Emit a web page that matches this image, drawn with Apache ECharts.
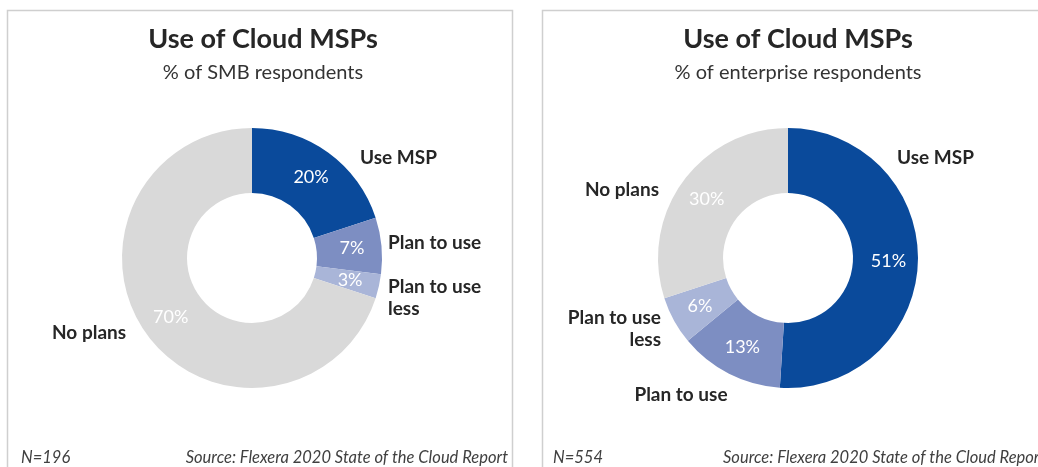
<!DOCTYPE html>
<html><head><meta charset="utf-8">
<script src="https://cdn.jsdelivr.net/npm/echarts@6/dist/echarts.min.js"></script>
<style>html,body{margin:0;padding:0;background:#fff}#c{width:1038px;height:467px}</style>
</head><body><div id="c"></div>
<script>
const categories = ['Use MSP', 'Plan to use', 'Plan to use less', 'No plans'];
const labelNames = ['Use MSP', 'Plan to use', 'Plan to use\nless', 'No plans'];
const smbValues = [20, 7, 3, 70];
const entValues = [51, 13, 6, 30];
const titles = ['Use of Cloud MSPs', 'Use of Cloud MSPs'];
const subtitles = ['% of SMB respondents', '% of enterprise respondents'];
const footN = ['N=196', 'N=554'];
const source = 'Source: Flexera 2020 State of the Cloud Report';
const colors = ['#0a4a9b', '#7d8ec2', '#a9b5d8', '#d9d9d9'];

// outer label placement (layout only)
const smbLabelPos = [
  {x: 360, y: 158, align: 'left'},
  {x: 388, y: 243, align: 'left'},
  {x: 388, y: 298, align: 'left'},
  {x: 52, y: 333, align: 'left'}
];
const entLabelPos = [
  {x: 897, y: 158, align: 'left'},
  {x: 681, y: 395, align: 'center'},
  {x: 661, y: 329, align: 'right'},
  {x: 659, y: 190, align: 'right'}
];

const FONT = 'Lato, "Open Sans", sans-serif';
const chart = echarts.init(document.getElementById('c'), null, {renderer: 'canvas'});

function mkData(vals) {
  return categories.map((c, i) => ({name: c, value: vals[i], itemStyle: {color: colors[i]}}));
}
function innerSeries(vals, cx) {
  return {
    type: 'pie', center: [cx, 258], radius: [65, 130], startAngle: 90, clockwise: true,
    silent: true, animation: false,
    itemStyle: {borderWidth: 0},
    label: {show: true, position: 'inside', formatter: '{c}%', color: '#ffffff',
      fontFamily: FONT, fontSize: 18},
    labelLine: {show: false},
    data: mkData(vals)
  };
}
function outerSeries(vals, cx, pos) {
  return {
    type: 'pie', center: [cx, 258], radius: [65, 130], startAngle: 90, clockwise: true,
    silent: true, animation: false, z: 1,
    itemStyle: {color: 'rgba(0,0,0,0)', borderWidth: 0},
    label: {show: true, position: 'outside', color: '#262626', fontFamily: FONT,
      fontSize: 19, fontWeight: 'bold', lineHeight: 22, overflow: 'none', width: 200,
      formatter: p => labelNames[p.dataIndex]},
    labelLine: {show: false},
    labelLayout: p => ({x: pos[p.dataIndex].x, y: pos[p.dataIndex].y, align: pos[p.dataIndex].align, verticalAlign: 'middle'}),
    data: categories.map((c, i) => ({name: c, value: vals[i]}))
  };
}

const titleList = [];
[258, 793].forEach((cx, i) => {
  titleList.push({text: titles[i], left: cx, top: 21, textAlign: 'center',
    textStyle: {fontFamily: FONT, fontSize: 27, fontWeight: 'bold', color: '#262626'}});
  titleList.push({text: subtitles[i], left: cx, top: 58, textAlign: 'center',
    textStyle: {fontFamily: FONT, fontSize: 20, fontWeight: 'normal', color: '#333333'}});
});

const footFont = 'italic 16.5px ' + FONT;
chart.setOption({
  backgroundColor: '#ffffff',
  title: titleList,
  graphic: [
    {type: 'rect', shape: {x: 7.5, y: 10.5, width: 505, height: 470}, style: {fill: 'none', stroke: '#cfcfcf', lineWidth: 1.5}, silent: true, z: -1},
    {type: 'rect', shape: {x: 542.5, y: 10.5, width: 505, height: 470}, style: {fill: 'none', stroke: '#cfcfcf', lineWidth: 1.5}, silent: true, z: -1},
    {type: 'text', left: 21, top: 449, style: {text: footN[0], font: footFont, fill: '#404040'}},
    {type: 'text', right: 530, top: 449, style: {text: source, font: footFont, fill: '#404040'}},
    {type: 'text', left: 553, top: 449, style: {text: footN[1], font: footFont, fill: '#404040'}},
    {type: 'text', left: 723, top: 449, style: {text: source, font: footFont, fill: '#404040'}}
  ],
  series: [
    innerSeries(smbValues, 252), outerSeries(smbValues, 252, smbLabelPos),
    innerSeries(entValues, 788), outerSeries(entValues, 788, entLabelPos)
  ]
});
</script></body></html>
